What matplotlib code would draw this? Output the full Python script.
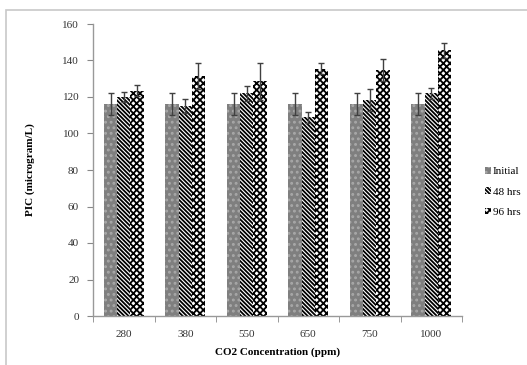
import matplotlib
matplotlib.use("Agg")
import matplotlib.pyplot as plt
import numpy as np
from matplotlib.patches import Rectangle

categories = ["280", "380", "550", "650", "750", "1000"]
series_names = ["Initial", "48 hrs", "96 hrs"]
initial = [116, 116, 116, 116, 116, 116]
initial_err = [6, 6, 6, 6, 6, 6]
hrs48 = [120, 115, 122, 109, 118.5, 122]
hrs48_err = [3, 4, 4, 3, 6, 3]
hrs96 = [123.5, 131.5, 128.5, 135.5, 135, 145.5]
hrs96_err = [3, 7, 10, 3, 6, 4]
yticks = [0, 20, 40, 60, 80, 100, 120, 140, 160]

plt.rcParams['font.family'] = ['Liberation Serif', 'DejaVu Serif']
plt.rcParams['hatch.linewidth'] = 1.3

fig = plt.figure(figsize=(5.27, 3.65), dpi=100)
# outer chart frame
fig.patches.append(Rectangle((6/527, -0.05), 1.2, 1 - 10/365 + 0.05, transform=fig.transFigure,
                             fill=False, edgecolor='#c8c8c8', linewidth=1.2))
ax = fig.add_axes([93/527, 1 - 316/365, (462 - 93)/527, (316 - 24)/365])

x = np.arange(len(categories))
w = 0.215
styles = [
    dict(color='#7f7f7f', hatch='...', edgecolor='#a8a8a8'),
    dict(color='white', hatch='\\' * 8, edgecolor='black'),
    dict(color='white', hatch='xxxxx', edgecolor='black'),
]
data = [(initial, initial_err), (hrs48, hrs48_err), (hrs96, hrs96_err)]
handles = []
for i, ((vals, errs), st, name) in enumerate(zip(data, styles, series_names)):
    pos = x + (i - 1) * w
    b = ax.bar(pos, vals, width=w, color=st['color'], hatch=st['hatch'],
               edgecolor=st['edgecolor'], linewidth=0, label=name)
    ax.errorbar(pos, vals, yerr=errs, fmt='none', ecolor='#404040',
                elinewidth=1.0, capsize=2.5, capthick=1.0)
    handles.append(b)

ax.set_xlim(-0.5, len(categories) - 0.5)
ax.set_ylim(0, 160)
ax.set_yticks(yticks)
ax.set_xticks(x)
ax.set_xticklabels(categories)
ax.set_xticks(np.arange(len(categories) + 1) - 0.5, minor=True)
ax.tick_params(axis='x', which='major', length=0, labelsize=8, pad=10, labelcolor='#333333')
ax.tick_params(axis='x', which='minor', length=4, direction='out', color='#888888')
ax.tick_params(axis='y', length=4, direction='out', color='#888888', labelsize=8, pad=6,
               labelcolor='#333333')
for s in ['top', 'right']:
    ax.spines[s].set_visible(False)
for s in ['left', 'bottom']:
    ax.spines[s].set_color('#999999')
    ax.spines[s].set_linewidth(1.0)

ax.set_ylabel("PIC (microgram/L)", fontsize=8, fontweight='bold', labelpad=20)
ax.set_xlabel("CO2 Concentration (ppm)", fontsize=8, fontweight='bold', labelpad=6)

leg = fig.legend(handles=handles, labels=series_names, loc='center left',
                 bbox_to_anchor=(475/527, 1 - 192/365), frameon=False, fontsize=8,
                 handlelength=0.5, handleheight=0.5, handletextpad=0.2, labelspacing=1.0)

fig.savefig("out.png", dpi=100)
